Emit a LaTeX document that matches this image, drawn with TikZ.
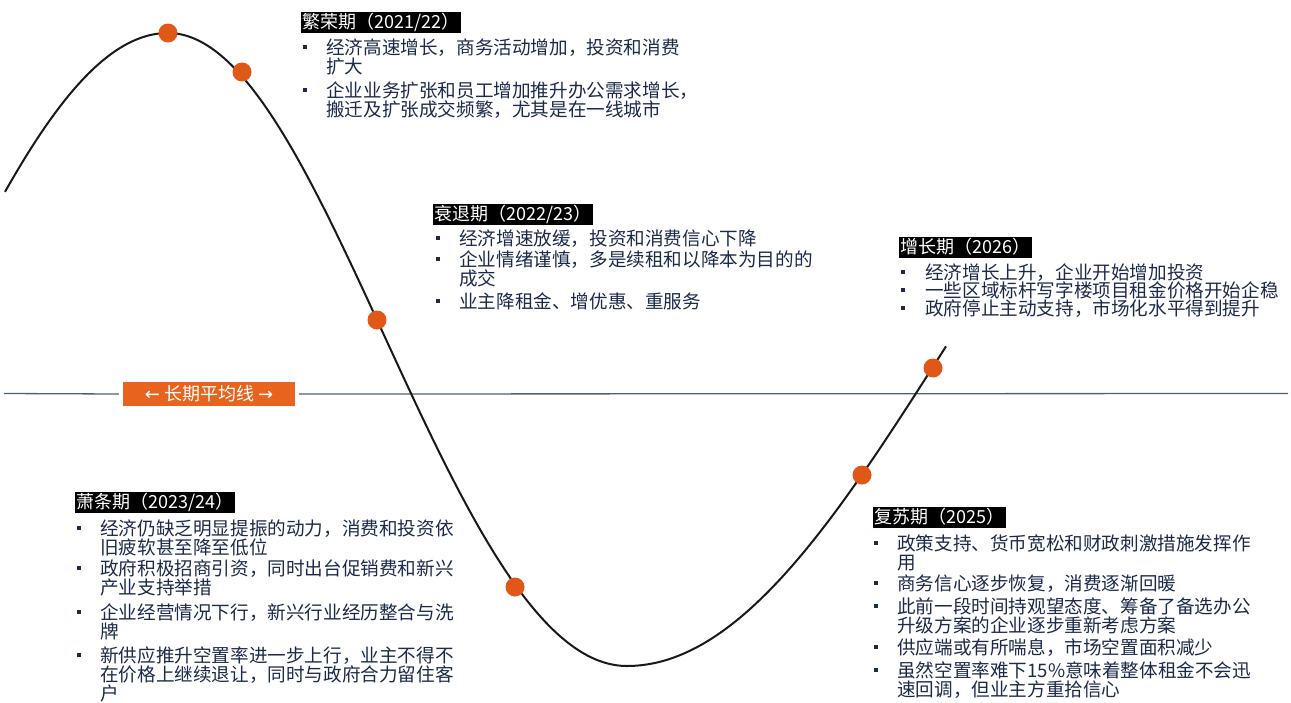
\documentclass[tikz,border=0pt]{standalone}
\usepackage{fontspec}
\setmainfont{Noto Sans CJK SC}
\newfontfamily\symfont{DejaVu Sans}
\definecolor{navy}{HTML}{1B2A4A}
\definecolor{dotorange}{HTML}{DF5817}
\definecolor{lblorange}{HTML}{E8631E}
\definecolor{midgray}{HTML}{4F6272}
\newcommand\twol[2]{\vtop{\hbox{#1}\hbox{#2}}}
\newcommand\threel[3]{\vtop{\hbox{#1}\hbox{#2}\hbox{#3}}}
\begin{document}
\begin{tikzpicture}[x=1pt,y=-1pt,
  head/.style={fill=black,text=white,anchor=north west,inner xsep=1.5pt,inner ysep=1pt,text height=15pt,text depth=4pt,font=\fontsize{18}{18}\selectfont},
  body/.style={anchor=base west,inner sep=0pt,text=navy,font=\fontsize{18.6}{19}\selectfont},
  bul/.style={fill=navy,minimum size=4.5pt,inner sep=0pt},
  dot/.style={circle,fill=dotorange,minimum size=19pt,inner sep=0pt},
  curve/.style={line width=2pt,black!90},
]
\useasboundingbox (0,0) rectangle (1291,702);

% long-term average line
\node[fill=lblorange,text=white,minimum width=172pt,minimum height=24pt,inner sep=0pt,font=\fontsize{18}{18}\selectfont] (avg) at (209,394) {{\symfont ←}\ 长期平均线\ {\symfont →}};
\coordinate (ml) at (4,393.5);
\coordinate (mr) at (1288,393.5);
\draw[midgray,line width=1.3pt] (ml) -- ([xshift=-4pt]avg.west);
\draw[midgray,line width=1.3pt] ([xshift=4pt]avg.east) -- (mr);

% cycle curve
\draw[curve] plot[domain=5:168,samples=60] (\x,{349.5-316.5*cos((168-\x)/488*180)})
  -- plot[domain=168:627,samples=140] (\x,{349.5-316.5*cos(((\x-168)/459+0.015*sin((\x-168)/459*180))*180)})
  -- plot[domain=627:946,samples=100] (\x,{349.5+316.5*cos((\x-627)/634*180)});

% dots
\node[dot] (d1) at (168,33) {};
\node[dot] (d2) at (242,72) {};
\node[dot] (d3) at (377,320) {};
\node[dot] (d4) at (515,587) {};
\node[dot] (d5) at (862,475) {};
\node[dot] (d6) at (933,368) {};

% block 1
\node[head] (h1) at (301,12) {繁荣期（2021/22）};
\node[bul] (b11) at (305,47) {};
\node[body] (t11) at (326,54) {\twol{经济高速增长，商务活动增加，投资和消费}{扩大}};
\node[bul] (b12) at (305,90) {};
\node[body] (t12) at (326,97) {\twol{企业业务扩张和员工增加推升办公需求增长，}{搬迁及扩张成交频繁，尤其是在一线城市}};

% block 2
\node[head] (h2) at (433,204) {衰退期（2022/23）};
\node[bul] (b21) at (438,238) {};
\node[body] (t21) at (459,245) {经济增速放缓，投资和消费信心下降};
\node[bul] (b22) at (438,259) {};
\node[body] (t22) at (459,266) {\twol{企业情绪谨慎，多是续租和以降本为目的的}{成交}};
\node[bul] (b23) at (438,301) {};
\node[body] (t23) at (459,308) {业主降租金、增优惠、重服务};

% block 3
\node[head] (h3) at (899,237) {增长期（2026）};
\node[bul] (b31) at (903,272) {};
\node[body] (t31) at (925,279) {经济增长上升，企业开始增加投资};
\node[bul] (b32) at (903,290) {};
\node[body] (t32) at (925,297) {一些区域标杆写字楼项目租金价格开始企稳};
\node[bul] (b33) at (903,308) {};
\node[body] (t33) at (925,315) {政府停止主动支持，市场化水平得到提升};

% block 4
\node[head] (h4) at (75,492) {萧条期（2023/24）};
\node[bul] (b41) at (79,528) {};
\node[body] (t41) at (100,535) {\twol{经济仍缺乏明显提振的动力，消费和投资依}{旧疲软甚至降至低位}};
\node[bul] (b42) at (79,568) {};
\node[body] (t42) at (100,575) {\twol{政府积极招商引资，同时出台促销费和新兴}{产业支持举措}};
\node[bul] (b43) at (79,612) {};
\node[body] (t43) at (100,619) {\twol{企业经营情况下行，新兴行业经历整合与洗}{牌}};
\node[bul] (b44) at (79,655) {};
\node[body] (t44) at (100,662) {\threel{新供应推升空置率进一步上行，业主不得不}{在价格上继续退让，同时与政府合力留住客}{户}};

% block 5
\node[head] (h5) at (873,507) {复苏期（2025）};
\node[bul] (b51) at (876,543) {};
\node[body] (t51) at (897,550) {\twol{政策支持、货币宽松和财政刺激措施发挥作}{用}};
\node[bul] (b52) at (876,583) {};
\node[body] (t52) at (897,590) {商务信心逐步恢复，消费逐渐回暖};
\node[bul] (b53) at (876,606) {};
\node[body] (t53) at (897,613) {\twol{此前一段时间持观望态度、筹备了备选办公}{升级方案的企业逐步重新考虑方案}};
\node[bul] (b54) at (876,647) {};
\node[body] (t54) at (897,654) {供应端或有所喘息，市场空置面积减少};
\node[bul] (b55) at (876,670) {};
\node[body] (t55) at (897,677) {\twol{虽然空置率难下15\%意味着整体租金不会迅}{速回调，但业主方重拾信心}};
\end{tikzpicture}
\end{document}
